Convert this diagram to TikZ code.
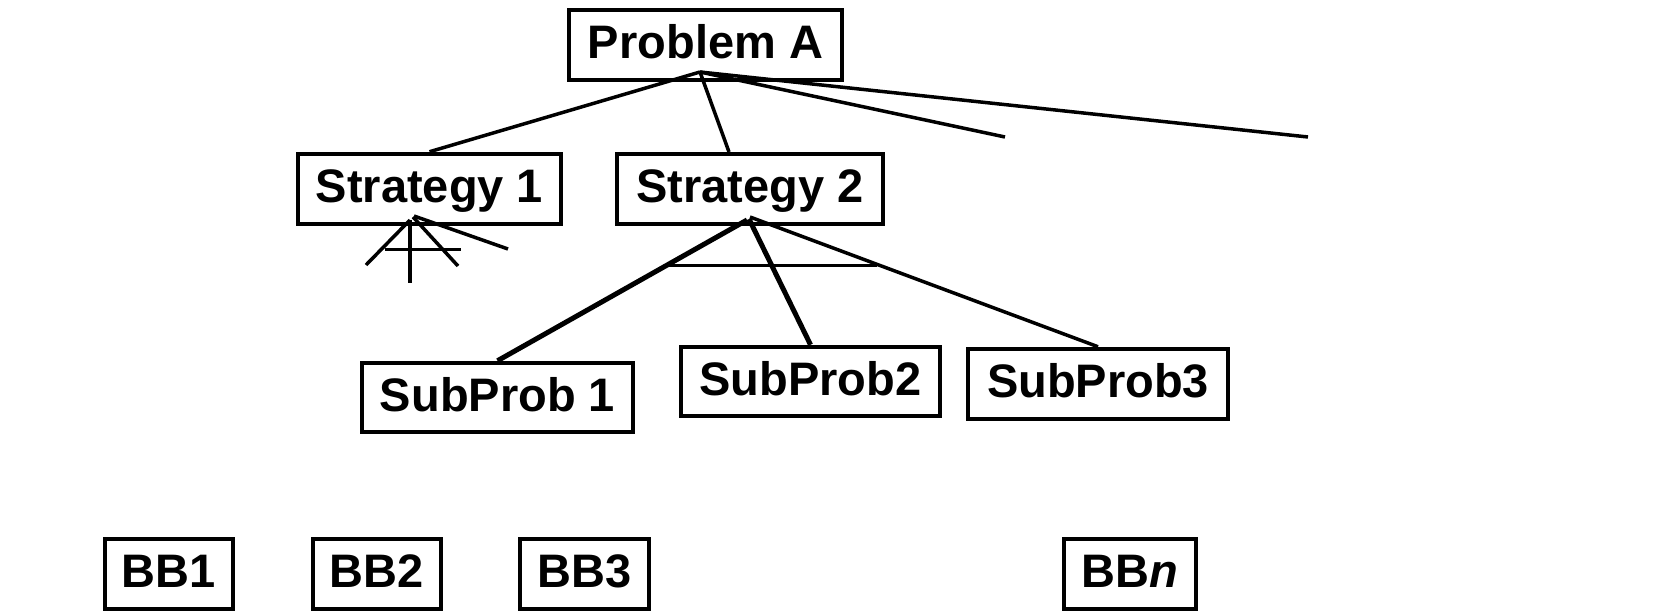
\documentclass[tikz,border=0pt]{standalone}
\usepackage{fontspec}
\setmainfont{Liberation Sans}
\begin{document}
\begin{tikzpicture}[x=1pt,y=-1pt,
  box/.style={draw,line width=4.5pt,inner sep=0pt,
    font=\fontsize{47}{50}\selectfont\bfseries,
    text height=34pt,text depth=7pt,minimum height=70pt},
  link/.style={line width=3.5pt},
  thinlink/.style={line width=3pt},
  heavy/.style={line width=5pt}]
\useasboundingbox (0,0) rectangle (1669,615);

% top problem
\node[box,minimum width=273pt] (pA) at (705.5,45) {Problem A};

% strategies
\node[box,minimum width=263pt] (s1) at (429.5,189) {Strategy 1};
\node[box,minimum width=266pt] (s2) at (750,189) {Strategy 2};

% sub-problems
\node[box,minimum width=271pt,minimum height=69pt] (sp1) at (497.5,397.5) {SubProb 1};
\node[box,minimum width=259pt,minimum height=69pt] (sp2) at (810.5,381.5) {SubProb2};
\node[box,minimum width=260pt] (sp3) at (1098,384) {SubProb3};

% building blocks
\node[box,minimum width=128pt] (bb1) at (169,574) {BB1};
\node[box,minimum width=128pt] (bb2) at (377,574) {BB2};
\node[box,minimum width=129pt] (bb3) at (584.5,574) {BB3};
\node[box,minimum width=132pt] (bbn) at (1130,574) {BB\textit{n}};

% fan-out points
\coordinate (apA) at (700,72);
\coordinate (endA) at (1005,137);
\coordinate (endB) at (1308,137);
\coordinate (s2top) at (729,152);

\coordinate (apS2a) at (747,220);
\coordinate (apS2b) at (749,219);
\coordinate (apS2c) at (750,217);

\coordinate (apS1a) at (410,220);
\coordinate (apS1b) at (413,217);
\coordinate (apS1c) at (414,216);
\coordinate (s1l) at (366,265);
\coordinate (s1v) at (410,283);
\coordinate (s1r) at (458,266);
\coordinate (s1f) at (508,249);
\coordinate (s1hl) at (385,249);
\coordinate (s1hr) at (461,249);

\coordinate (s2hl) at (667,265);
\coordinate (s2hr) at (877,265);

% problem A to strategies
\draw[link] (apA) -- (s1.north);
\draw[link] (apA) -- (s2top);
\draw[link] (apA) -- (endA);
\draw[link] (apA) -- (endB);

% strategy 1 stubs
\draw[link] (apS1a) -- (s1l);
\draw[link] (apS1a) -- (s1v);
\draw[link] (apS1b) -- (s1r);
\draw[link] (apS1c) -- (s1f);
\draw[thinlink] (s1hl) -- (s1hr);

% strategy 2 to sub-problems
\draw[heavy] (apS2a) -- (sp1.north);
\draw[heavy] (apS2b) -- (sp2.north);
\draw[link] (apS2c) -- (sp3.north);
\draw[thinlink] (s2hl) -- (s2hr);
\end{tikzpicture}
\end{document}
